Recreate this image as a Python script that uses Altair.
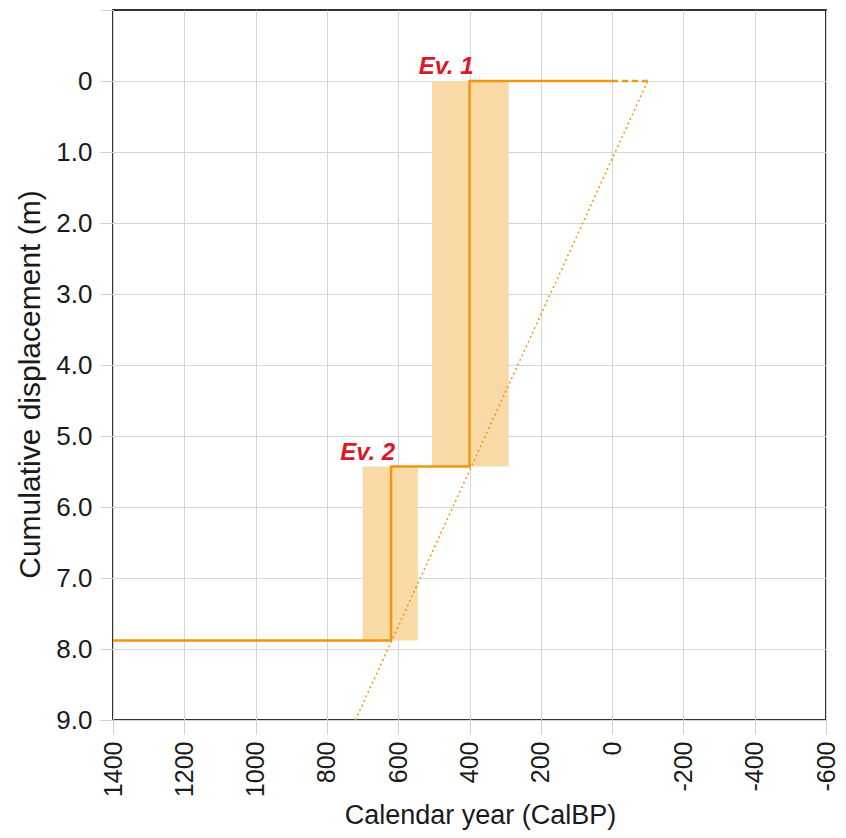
import altair as alt
import pandas as pd

# Step (cumulative displacement) history
step_year = [1400, 620, 620, 400, 400, 0]
step_disp = [7.88, 7.88, 5.43, 5.43, 0.0, 0.0]
# Dashed extension
dash_year = [0, -100]
dash_disp = [0.0, 0.0]
# Dotted average-rate line
rate_year = [-100, 720]
rate_disp = [0.0, 9.0]
# Event age uncertainty boxes
box_year_old = [505, 700]
box_year_young = [290, 545]
box_disp_top = [0.0, 5.43]
box_disp_bot = [5.43, 7.88]
# Event labels
ev_names = ["Ev. 1", "Ev. 2"]
ev_year = [400, 620]
ev_disp = [0.0, 5.43]

x_ticks = list(range(1400, -601, -100))
y_ticks = [v / 2 for v in range(-2, 19)]

FONT = "Liberation Sans"
ORANGE = "#f0960f"
BOXC = "#f9d9a6"

xscale = alt.Scale(domain=[1400, -600], nice=False, zero=False)
yscale = alt.Scale(domain=[9, -1], nice=False, zero=False)

xaxis = alt.Axis(
    title="Calendar year (CalBP)", values=x_ticks, labelAngle=270,
    labelExpr="datum.value % 200 == 0 ? '' + datum.value : ''",
    gridColor="#d6d6d6",
    gridOpacity={"condition": {"test": "datum.value % 200 != 0", "value": 0}, "value": 1},
    tickColor="#d0d0d0",
    tickSize={"condition": {"test": "datum.value % 200 != 0", "value": 7}, "value": 14},
    labelFontSize=25, titleFontSize=27, labelFont=FONT, titleFont=FONT,
    labelColor="#1a1a1a", titleColor="#1a1a1a", titleFontWeight="normal",
    labelPadding=7, titlePadding=6, titleX=367, domain=False, labelFlush=False, labelOverlap=False,
)
yaxis = alt.Axis(
    title="Cumulative displacement (m)", values=y_ticks,
    labelExpr="(datum.value < 0 || datum.value % 1 != 0) ? '' : (datum.value == 0 ? '0' : format(datum.value, '.1f'))",
    gridColor="#d6d6d6",
    gridOpacity={"condition": {"test": "datum.value % 1 != 0 || datum.value < 0", "value": 0}, "value": 1},
    tickColor="#d0d0d0",
    tickSize={"condition": {"test": "datum.value % 1 != 0", "value": 7}, "value": 13},
    labelFontSize=26, titleFontSize=30, labelFont=FONT, titleFont=FONT,
    labelColor="#1a1a1a", titleColor="#1a1a1a", titleFontWeight="normal",
    labelPadding=8, titlePadding=10, titleY=374, domain=False, labelFlush=False, labelOverlap=False,
)

boxes = pd.DataFrame({"x": box_year_old, "x2": box_year_young, "y": box_disp_top, "y2": box_disp_bot})
steps = pd.DataFrame({"x": step_year, "y": step_disp, "i": list(range(len(step_year)))})
dash = pd.DataFrame({"x": dash_year, "y": dash_disp})
rate = pd.DataFrame({"x": rate_year, "y": rate_disp})
labels = pd.DataFrame({"name": ev_names, "x": ev_year, "y": ev_disp})

base_box = alt.Chart(boxes).mark_rect(color=BOXC, opacity=1).encode(
    x=alt.X("x:Q", scale=xscale, axis=xaxis), x2="x2:Q",
    y=alt.Y("y:Q", scale=yscale, axis=yaxis), y2="y2:Q",
)
rate_line = alt.Chart(rate).mark_line(color=ORANGE, strokeWidth=1.5, strokeDash=[2, 3], clip=True).encode(
    x=alt.X("x:Q", scale=xscale), y=alt.Y("y:Q", scale=yscale)
)
dash_line = alt.Chart(dash).mark_line(color=ORANGE, strokeWidth=2.5, strokeDash=[6, 4]).encode(
    x=alt.X("x:Q", scale=xscale), y=alt.Y("y:Q", scale=yscale)
)
step_line = alt.Chart(steps).mark_line(color=ORANGE, strokeWidth=2.5).encode(
    x=alt.X("x:Q", scale=xscale), y=alt.Y("y:Q", scale=yscale), order="i:Q"
)
text = alt.Chart(labels).mark_text(
    color="#d9182a", font=FONT, fontSize=24, fontWeight="bold", fontStyle="italic",
    align="right", baseline="alphabetic", dx=4, dy=-7,
).encode(x=alt.X("x:Q", scale=xscale), y=alt.Y("y:Q", scale=yscale), text="name:N")

chart = alt.layer(base_box, rate_line, dash_line, step_line, text).properties(
    width=713, height=710,
    autosize=alt.AutoSizeParams(type="none"),
    padding={"left": 113, "top": 10, "right": 20, "bottom": 118},
    background="white",
).configure_view(stroke="#333333", strokeWidth=2)

chart.save("out.html", embed_options={"renderer": "svg", "actions": False})
